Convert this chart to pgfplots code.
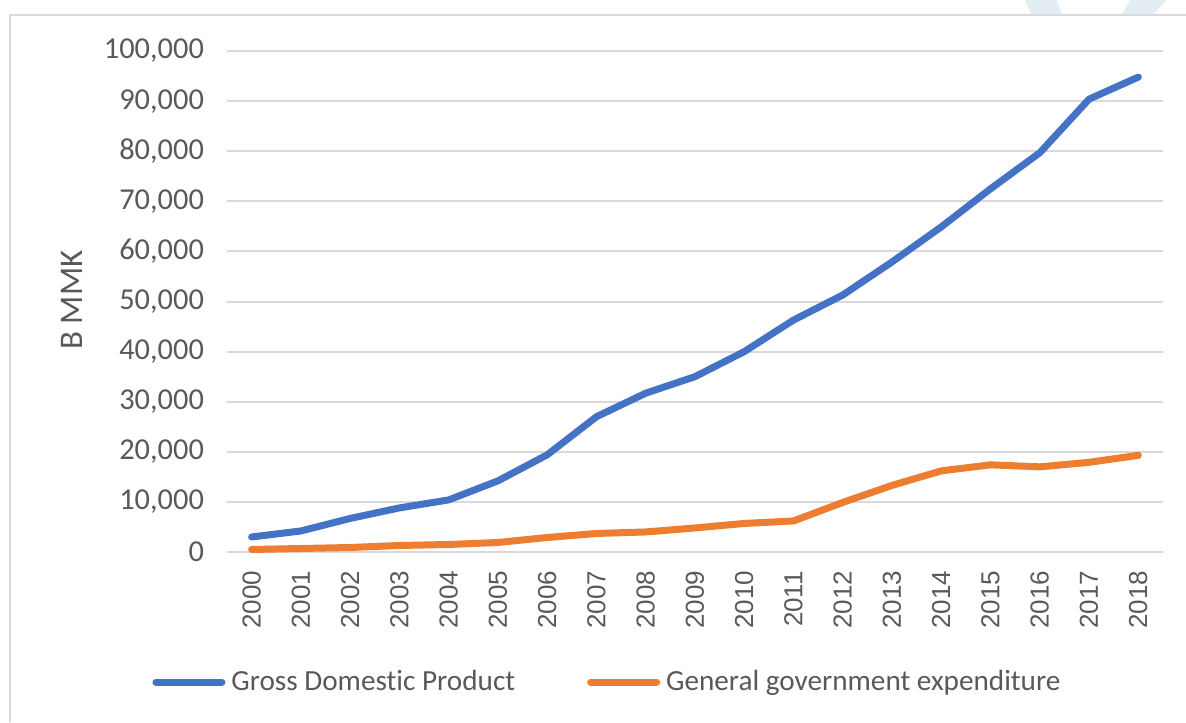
\documentclass[border=0pt]{standalone}
\usepackage{pgfplots}
\pgfplotsset{compat=1.18}
\usepackage{fontspec}
\setmainfont{Carlito}[Ligatures=CommonOff]
\newfontfamily\arialfont{Liberation Sans}
\definecolor{gdpblue}{HTML}{4472C4}
\definecolor{expor}{HTML}{ED7D31}
\definecolor{gridgray}{HTML}{D9D9D9}
\definecolor{txtgray}{HTML}{595959}
\definecolor{wmblue}{HTML}{E3EDF4}
% pixel of the reference -> picture coordinates (axis origin at px 227,552; 1px = 0.5pt)
\newcommand\px[2]{({(#1-227)*0.5pt},{(552-#2)*0.5pt})}

\begin{document}
\begin{tikzpicture}
% frame and watermark
\fill[wmblue] \px{1025}{0} -- \px{1057}{0} -- \px{1062}{14} -- \px{1031}{14} -- cycle;
\fill[wmblue] \px{1130}{0} -- \px{1167}{0} -- \px{1154}{14} -- \px{1122}{14} -- cycle;
\draw[gridgray, line width=1pt] \px{10}{722} -- \px{10}{15} -- \px{1186}{15};

\begin{axis}[
  at={(0,0)}, anchor=south west,
  scale only axis,
  width=468pt, height=250.5pt,
  xmin=1999.5, xmax=2018.5,
  ymin=0, ymax=100000,
  xtick={2000,...,2018},
  xticklabels={2000,2001,2002,2003,2004,2005,2006,2007,2008,2009,2010,2011,2012,2013,2014,2015,2016,2017,2018},
  ytick={0,10000,...,100000},
  scaled ticks=false,
  /pgf/number format/.cd, fixed, precision=0, 1000 sep={,}, assume math mode=true, /pgfplots/.cd,
  axis line style={draw=none},
  major tick length=0pt,
  ymajorgrids,
  grid style={gridgray, line width=1pt},
  yticklabel style={font=\fontsize{15.2}{18}\selectfont, text=txtgray, xshift=-8pt},
  xticklabel style={font=\arialfont\fontsize{13}{15}\selectfont, text=txtgray,
    rotate=90, anchor=east},
  xticklabel shift=6pt,
  ylabel={B MMK},
  ylabel style={font=\fontsize{16.5}{20}\selectfont, text=txtgray,
    at={(rel axis cs:-0.1656,0.503)}, anchor=center, rotate=0},
  legend columns=2,
  legend cell align=left,
  legend style={draw=none, fill=none, inner sep=0pt,
    at={(-0.0801,-0.2595)}, anchor=west,
    font=\fontsize{14.6}{17}\selectfont, text=txtgray,
    nodes={inner xsep=3pt, inner ysep=1pt},
    /tikz/every even column/.append style={column sep=33pt}},
  legend image code/.code={\draw[#1, line cap=round] (0pt,0pt) -- (33pt,0pt);},
  every axis plot/.append style={line width=3.5pt, line cap=round, line join=round},
]
\addplot[gdpblue] coordinates {
(2000,3000) (2001,4200) (2002,6700) (2003,8800) (2004,10400) (2005,14200)
(2006,19400) (2007,27000) (2008,31700) (2009,35000) (2010,40000) (2011,46300)
(2012,51300) (2013,57900) (2014,64900) (2015,72500) (2016,79700) (2017,90400)
(2018,94800)};
\addlegendentry{Gross Domestic Product}
\addplot[expor] coordinates {
(2000,500) (2001,700) (2002,900) (2003,1300) (2004,1500) (2005,1900)
(2006,2900) (2007,3700) (2008,4000) (2009,4800) (2010,5700) (2011,6200)
(2012,9900) (2013,13300) (2014,16200) (2015,17400) (2016,17000) (2017,17900)
(2018,19300)};
\addlegendentry{General government expenditure}
\end{axis}
\pgfresetboundingbox
\path[use as bounding box] \px{0}{0} rectangle \px{1186}{722};
\end{tikzpicture}
\end{document}
